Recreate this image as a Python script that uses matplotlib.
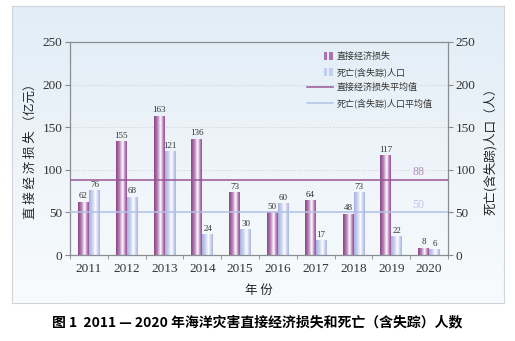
import matplotlib
matplotlib.use('Agg')
import matplotlib.pyplot as plt
import numpy as np
from matplotlib.colors import LinearSegmentedColormap
from matplotlib.legend_handler import HandlerBase
from matplotlib.patches import Rectangle
from matplotlib.lines import Line2D


years = ['2011', '2012', '2013', '2014', '2015', '2016', '2017', '2018', '2019', '2020']
# bar heights as drawn (2012 bar is drawn lower than its label says)
loss = [62, 133, 163, 136, 73, 50, 64, 48, 117, 8]
loss_labels = ['62', '155', '163', '136', '73', '50', '64', '48', '117', '8']
deaths = [76, 68, 121, 24, 30, 60, 17, 73, 22, 6]
deaths_labels = ['76', '68', '121', '24', '30', '60', '17', '73', '22', '6']
loss_mean = 88
deaths_mean = 50

cjk = 'Noto Sans CJK SC'
serif = 'Liberation Serif'

purple = '#9a5598'
blue = '#b3c0e6'
purple_cmap = LinearSegmentedColormap.from_list(
    'p', [(0, '#8a4688'), (0.3, '#b47db3'), (0.62, '#ffffff'), (0.82, '#c08bbf'), (1, '#96509a')])
blue_cmap = LinearSegmentedColormap.from_list(
    'b', [(0, '#a6b3df'), (0.3, '#c8d1ef'), (0.6, '#ffffff'), (0.82, '#c8d1ef'), (1, '#a9b7e2')])


class StripeHandler(HandlerBase):
    def __init__(self, color):
        super().__init__()
        self.color = color

    def create_artists(self, legend, orig_handle, xdescent, ydescent, width, height, fontsize, trans):
        w = width * 0.14
        x_end = width - xdescent
        r1 = Rectangle((x_end - 2.5 * w, -ydescent - height * 0.15), w, height * 1.3,
                       facecolor=self.color, edgecolor='none', transform=trans)
        r2 = Rectangle((x_end - 1.1 * w, -ydescent - height * 0.15), w, height * 1.3,
                       facecolor=self.color, edgecolor='none', transform=trans)
        return [r1, r2]


fig = plt.figure(figsize=(5.15, 3.41), dpi=100)

# light blue panel behind the chart
bg = fig.add_axes([12 / 515, 1 - 303 / 341, 492 / 515, 297 / 341], zorder=-5)
grad = np.linspace(0, 1, 100).reshape(-1, 1)
bg_cmap = LinearSegmentedColormap.from_list('bg', ['#e2edf6', '#f8fbfd'])
bg.imshow(grad, aspect='auto', cmap=bg_cmap, extent=(0, 1, 0, 1))
bg.set_xticks([])
bg.set_yticks([])
for s in bg.spines.values():
    s.set_color('#d0d4d8')
    s.set_linewidth(0.8)

ax = fig.add_axes([70 / 515, 1 - 255 / 341, 378 / 515, 213 / 341])
ax.set_facecolor('none')

x = np.arange(len(years))
bw = 0.29
bars1 = ax.bar(x - bw / 2, loss, bw, color='none', edgecolor='none')
bars2 = ax.bar(x + bw / 2, deaths, bw, color='none', edgecolor='none')

g = np.linspace(0, 1, 50).reshape(1, -1)
for bars, cmap in ((bars1, purple_cmap), (bars2, blue_cmap)):
    for b in bars:
        x0 = b.get_x()
        ax.imshow(g, extent=(x0, x0 + b.get_width(), 0, b.get_height()),
                  aspect='auto', cmap=cmap, zorder=2)

for i in range(len(years)):
    ax.text(x[i] - bw / 2, loss[i] + 2, loss_labels[i], ha='center', va='bottom',
            fontsize=6.5, family=serif, color='#333333')
    ax.text(x[i] + bw / 2, deaths[i] + 2, deaths_labels[i], ha='center', va='bottom',
            fontsize=6.5, family=serif, color='#333333')

ax.axhline(loss_mean, color=purple, lw=1.1, zorder=3)
ax.axhline(deaths_mean, color=blue, lw=1.1, zorder=3)
ax.text(8.72, loss_mean + 2, str(loss_mean), color='#b08ab8', fontsize=8.5,
        family=serif, ha='center', va='bottom')
ax.text(8.72, deaths_mean + 2, str(deaths_mean), color='#b8c4e8', fontsize=8.5,
        family=serif, ha='center', va='bottom')

for yv in (100, 150, 200):
    ax.axhline(yv, color='#c8ccd0', lw=0.7, ls=(0, (1, 2)), zorder=1)

ax.set_xlim(-0.5, len(years) - 0.5)
ax.set_ylim(0, 250)
ax.set_yticks([0, 50, 100, 150, 200, 250])
ax.set_xticks(x)
ax.set_xticklabels(years, family=serif, fontsize=9.5, color='#333333')
ax.set_xticks(np.arange(-0.5, len(years)), minor=True)
ax.tick_params(axis='x', which='major', length=0, pad=6)
ax.tick_params(axis='x', which='minor', length=3, color='#888888', direction='out')
ax.tick_params(axis='y', length=3.5, color='#888888', labelsize=9.5, pad=2, labelcolor='#333333')
for lbl in ax.get_yticklabels():
    lbl.set_family(serif)
for s in ax.spines.values():
    s.set_color('#8a8e92')
    s.set_linewidth(0.9)

ax.set_xlabel('年 份', family=cjk, fontsize=9, labelpad=6, color='#222222')
ax.set_ylabel('直 接 经 济 损 失 （亿元）', family=cjk, fontsize=9, labelpad=4, color='#222222')

ax2 = ax.twinx()
ax2.set_ylim(0, 250)
ax2.set_yticks([0, 50, 100, 150, 200, 250])
ax2.tick_params(axis='y', length=3.5, color='#888888', labelsize=9.5, pad=2, labelcolor='#333333')
for lbl in ax2.get_yticklabels():
    lbl.set_family(serif)
for s in ax2.spines.values():
    s.set_visible(False)
ax2.set_ylabel('死亡(含失踪)人口（人）', family=cjk, fontsize=9, rotation=90, labelpad=6,
               color='#222222')

handles = [Rectangle((0, 0), 1, 1), Rectangle((0, 0), 1, 1),
           Line2D([], [], color=purple, lw=1.1), Line2D([], [], color=blue, lw=1.1)]
names = ['直接经济损失', '死亡(含失踪)人口', '直接经济损失平均值', '死亡(含失踪)人口平均值']
leg = ax.legend(handles, names, loc='upper left', bbox_to_anchor=(0.605, 0.99),
                frameon=False, handlelength=2.9, handletextpad=0.4, labelspacing=0.65,
                prop={'family': cjk, 'size': 6.5},
                handler_map={handles[0]: StripeHandler('#b072ae'),
                             handles[1]: StripeHandler('#c3cdee')})
for t in leg.get_texts():
    t.set_color('#333333')

fig.text(0.5, 1 - 322 / 341, '图 1  2011 — 2020 年海洋灾害直接经济损失和死亡（含失踪）人数',
         ha='center', va='center', family=cjk, fontsize=10, fontweight='bold')

fig.savefig('out.png', dpi=100)
